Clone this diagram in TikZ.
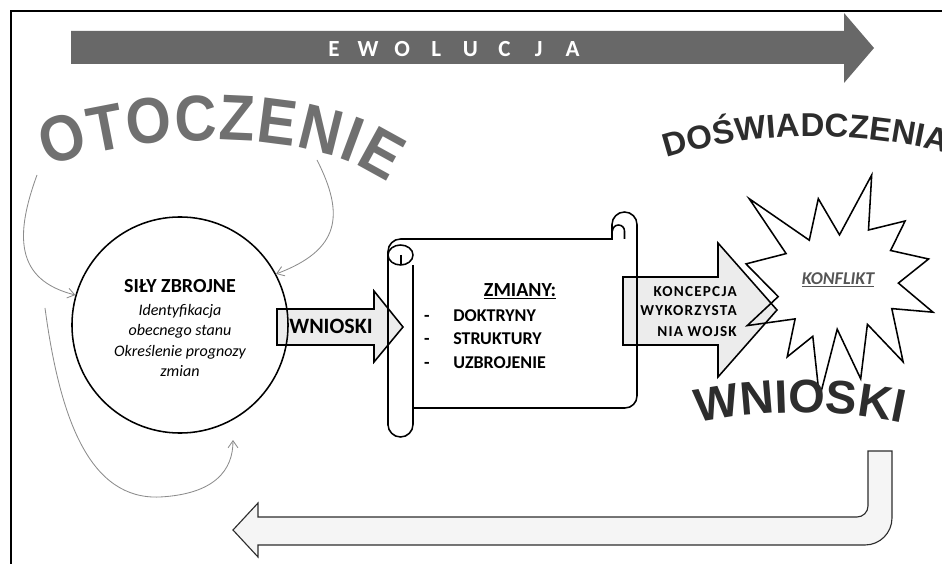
\documentclass[tikz,border=0pt]{standalone}
\usepackage{fontspec}
\setmainfont{Carlito}
\newfontfamily\artfont{Liberation Sans}
\newfontfamily\artnarrow{Liberation Sans}[FakeStretch=0.9]
\usetikzlibrary{arrows.meta,decorations.text}

\definecolor{evogrey}{RGB}{104,104,104}
\definecolor{artgrey}{RGB}{112,112,112}
\definecolor{artdark}{RGB}{45,45,45}
\definecolor{thingrey}{RGB}{140,140,140}
\definecolor{palefill}{RGB}{236,236,236}
\definecolor{konfgrey}{RGB}{85,85,85}

\begin{document}
\begin{tikzpicture}[x=0.025cm,y=-0.025cm]
\tikzstyle{every node}+=[inner sep=0pt]
\tikzstyle{blockarrow}=[draw=black,line width=1.1pt,fill=palefill,line join=miter]
\tikzstyle{thinarrow}=[draw=thingrey,line width=0.6pt,-{Straight Barb[length=5pt,width=7pt]}]
\tikzstyle{outline}=[draw=black,line width=1.1pt]
\useasboundingbox (0,0) rectangle (942,564);
% frame
\draw [black,line width=1pt] (11,564) -- (11,11) -- (942,11);
% evolution arrow
\fill [evogrey] (71,31) -- (844,31) -- (844,13) -- (874,48) -- (844,83) -- (844,64) -- (71,64) -- cycle;
\foreach \l [count=\i from 0] in {E,W,O,L,U,C,J,A}
  \node [anchor=base,text=white,font=\bfseries\fontsize{16.4}{18}\selectfont] (evo\i) at (334+34.1*\i,57) {\l};
% block arrows
\draw [blockarrow] (277,309) -- (374,309) -- (374,291) -- (403,327) -- (374,362) -- (374,345) -- (277,345) -- cycle;
\draw [blockarrow] (623,277) -- (718,277) -- (718,243) -- (777,310) -- (718,377) -- (718,345) -- (623,345) -- cycle;
\draw [blockarrow,draw=artdark,line width=0.8pt,fill=palefill!50] (233,530) -- (258,503) -- (258,517) -- (857,517) arc (90:0:11) -- (868,451) -- (892,451) -- (892,518) arc (0:90:27) -- (258,545) -- (258,557) -- cycle;
% armed forces
\node [outline,circle,minimum size=5.4cm] (sily) at (180,325) {};
\node [anchor=base,font=\bfseries\fontsize{14.2}{17}\selectfont] (silyT) at (180,292) {SIŁY ZBROJNE};
\foreach \t/\yy [count=\i] in {Identyfikacja/315,obecnego stanu/335,Określenie prognozy/356,zmian/376}
  \node [anchor=base,font=\itshape\fontsize{11.4}{14}\selectfont] (silyL\i) at (180,\yy) {\t};
% scroll
\draw [outline] (388,424.5) -- (388,251.5) arc (180:270:12.5) -- (612,239) -- (612,224.5) arc (180:360:12.5) -- (637,396) arc (0:90:12) -- (413,408) -- (413,424.5) arc (0:180:12.5) -- cycle;
\draw [outline] (400.5,255) ellipse (12.5 and 10);
\draw [outline] (401,255) -- (401,265);
\draw [outline] (413,265) -- (413,408);
\draw [outline] (624.5,239) -- (624.5,231) arc (0:-180:6);
\node [anchor=base,font=\bfseries\fontsize{14.2}{17}\selectfont] (zmiany) at (520,296) {\underline{ZMIANY:}};
\foreach \t/\yy [count=\i] in {DOKTRYNY/321,STRUKTURY/345,UZBROJENIE/368} {
  \node [anchor=base,font=\bfseries\fontsize{12.8}{15}\selectfont] (dash\i) at (427,\yy) {-};
  \node [anchor=base west,font=\bfseries\fontsize{12.8}{15}\selectfont] (item\i) at (453,\yy) {\t};
}
% conflict
\draw [outline,line join=miter] (839.5,234.9) -- (871.7,175) -- (868.5,230.0) -- (905.1,221.0) -- (890.6,250.5) -- (928.6,259.0) -- (898.4,283.1) -- (933,312.2) -- (891.8,308.6) -- (903.1,361.8) -- (867.4,324.3) -- (860.7,378.8) -- (837.2,329.2) -- (819.5,398) -- (812.8,336.3) -- (787.2,356.9) -- (795.1,318.9) -- (747.2,325.6) -- (778.2,296.6) -- (746,263.9) -- (786.1,253.6) -- (749.2,198.7) -- (809.3,240.2) -- (818.3,198.7) -- cycle;
\node [anchor=base,text=konfgrey,font=\bfseries\itshape\fontsize{12.8}{15}\selectfont] (konflikt) at (838,284) {\underline{KONFLIKT}};
% arrow texts
\node [anchor=base,font=\bfseries\fontsize{15.6}{18}\selectfont] (wnioskiA) at (331,333) {WNIOSKI};
\foreach \t/\yy [count=\i] in {KONCEPCJA/296,WYKORZYSTA/316,NIA WOJSK/336}
  \node [anchor=base east,font=\bfseries\fontsize{10.8}{12}\selectfont\addfontfeature{LetterSpace=8}] (konc\i) at (737,\yy) {\t};
% environment arrows
\coordinate (otL) at (37,175);
\coordinate (otR) at (317,160);
\coordinate (loopS) at (45,308);
\coordinate (loopE) at (233,440);
\draw [thinarrow] (otL) .. controls (15,235) and (15,280) .. (sily.164);
\draw [thinarrow] (otR) .. controls (345,215) and (340,250) .. (sily.28);
\draw [thinarrow] (loopS) .. controls (60,420) and (90,500) .. (160,497) .. controls (215,494) and (233,470) .. (loopE);
% word art
\path [decorate,decoration={text along path,text align=fit to path,text color=artgrey,
  text={|\artnarrow\bfseries\fontsize{46}{46}\selectfont|OTOCZENIE}}]
  (48,168) .. controls (120,135) and (305,122) .. (388,183);
\path [decorate,decoration={text along path,text align=left,text color=artdark,
  text={|\artfont\bfseries\fontsize{23.5}{24}\selectfont|DOŚWIADCZENIA}}]
  (667,158) .. controls (760,128) and (880,128) .. (985,165);
\path [decorate,decoration={text along path,text align=center,text color=artdark,
  text={|\artfont\bfseries\fontsize{33.4}{34}\selectfont|WNIOSKI}}]
  (686,426) .. controls (760,408) and (840,408) .. (914,426);
\end{tikzpicture}
\end{document}
